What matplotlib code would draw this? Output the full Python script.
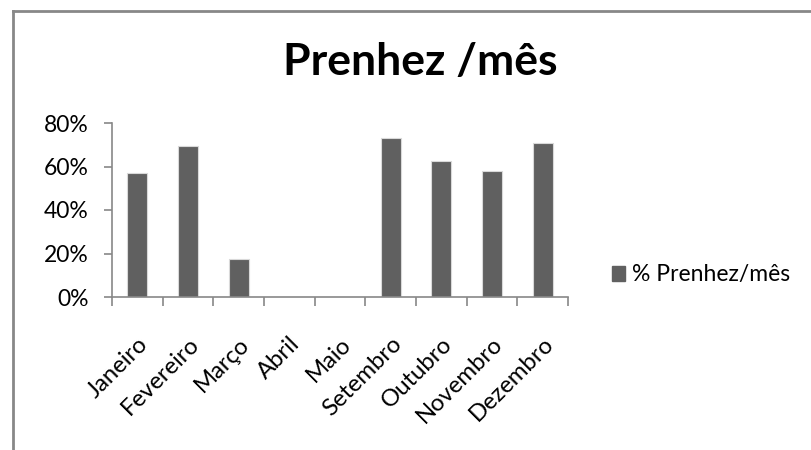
import matplotlib
matplotlib.use("Agg")
import matplotlib.pyplot as plt
from matplotlib.lines import Line2D
from matplotlib.ticker import FuncFormatter, FixedLocator
from matplotlib.transforms import ScaledTranslation

plt.rcParams['font.family'] = ['Lato', 'DejaVu Sans']

meses = ['Janeiro', 'Fevereiro', 'Março', 'Abril', 'Maio',
         'Setembro', 'Outubro', 'Novembro', 'Dezembro']
prenhez = [0.57, 0.694, 0.176, 0.0, 0.0, 0.732, 0.627, 0.579, 0.707]
y_ticks = [0, 0.2, 0.4, 0.6, 0.8]
serie = '% Prenhez/mês'

bar_color = '#606060'
axis_color = '#888888'

fig = plt.figure(figsize=(8.11, 4.5), dpi=100)
ax = fig.add_axes([112 / 811, 1 - 297 / 450, (568 - 112) / 811, (297 - 123) / 450])

x = list(range(len(meses)))
ax.bar(x, prenhez, width=0.4, color=bar_color, edgecolor='#d9d9d9',
       linewidth=0.8, label=serie)

ax.set_xlim(-0.5, len(meses) - 0.5)
ax.set_ylim(0, 0.8)
ax.set_yticks(y_ticks)
ax.yaxis.set_major_formatter(FuncFormatter(lambda v, p: f'{v * 100:.0f}%'))

ax.set_xticks(x)
ax.set_xticklabels(meses, rotation=45, ha='right', va='top',
                   rotation_mode='anchor')
# nudge the rotated month labels a little to the left
shift = ScaledTranslation(-5 / 100, 0, fig.dpi_scale_trans)
for lbl in ax.get_xticklabels():
    lbl.set_transform(lbl.get_transform() + shift)
ax.xaxis.set_minor_locator(FixedLocator([i - 0.5 for i in range(len(meses) + 1)]))
ax.tick_params(axis='x', which='major', length=0, pad=26, labelsize=17.2)
ax.tick_params(axis='x', which='minor', length=6.5, width=1.2, color=axis_color,
               direction='out')
ax.tick_params(axis='y', length=6, width=1.2, color=axis_color, pad=11,
               labelsize=16.5)

for side in ['top', 'right']:
    ax.spines[side].set_visible(False)
for side in ['left', 'bottom']:
    ax.spines[side].set_color(axis_color)
    ax.spines[side].set_linewidth(1.2)

fig.text(420 / 811, 1 - 62 / 450, 'Prenhez /mês', ha='center', va='center',
         fontsize=32, fontweight='bold')

fig.legend(handles=[plt.Rectangle((0, 0), 1, 1, color=bar_color)], labels=[serie],
           loc='center left', bbox_to_anchor=(591 / 811, 1 - 275 / 450),
           frameon=False, fontsize=16.5, handlelength=0.6, handleheight=0.6,
           handletextpad=0.3)

# chart area border (only the left and top edges are visible in the crop)
fig.add_artist(Line2D([13 / 811, 13 / 811], [0, 1 - 11 / 450],
                      transform=fig.transFigure, color=axis_color, lw=2))
fig.add_artist(Line2D([13 / 811, 1], [1 - 11 / 450, 1 - 11 / 450],
                      transform=fig.transFigure, color=axis_color, lw=2))

fig.savefig('out.png', dpi=100)
